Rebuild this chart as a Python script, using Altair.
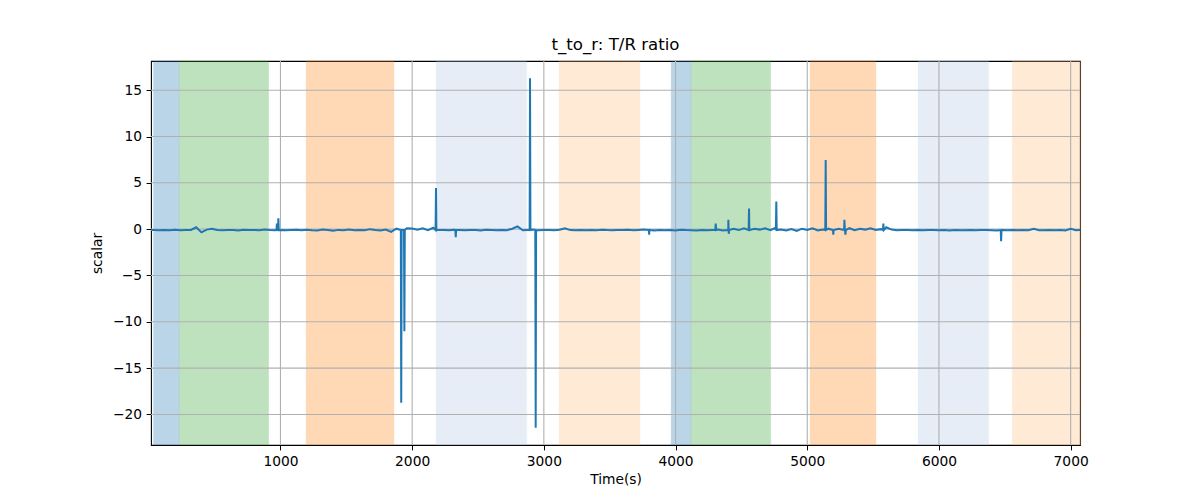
import altair as alt
import pandas as pd

# ---- data ----
base_t = list(range(0, 7120, 40))
base_v = [
    -0.10, -0.08, -0.12, -0.09, -0.11, -0.07, -0.13, -0.10, -0.09, 0.20,
    -0.35, -0.05, 0.05, -0.10, -0.12, -0.08, -0.10, -0.14, -0.06, -0.10,
    -0.09, -0.12, -0.05, -0.10, -0.11, -0.08, -0.12, -0.10, -0.07, -0.12,
    -0.06, -0.12, -0.15, -0.05, -0.10, -0.18, -0.08, -0.11, -0.04, -0.12,
    -0.09, -0.13, 0.00, -0.10, -0.15, -0.05, -0.30, 0.05, -0.12, 0.10,
    0.08, -0.05, 0.10, -0.12, 0.15, -0.10, -0.08, -0.12, -0.06, -0.10,
    -0.12, -0.08, -0.10, -0.14, -0.07, -0.10, -0.12, -0.09, -0.11, 0.05,
    0.30, -0.12, -0.10, -0.05, -0.12, -0.08, -0.10, -0.13, -0.07, 0.10,
    -0.10, -0.12, -0.08, -0.11, -0.09, -0.13, -0.06, -0.10, -0.12, -0.08,
    -0.10, -0.07, -0.12, -0.09, -0.05, 0.00, -0.15, -0.08, -0.12, -0.10,
    -0.14, -0.06, -0.10, -0.12, -0.15, -0.08, -0.12, -0.10, -0.05, -0.14,
    -0.20, 0.05, -0.10, 0.10, -0.15, 0.05, -0.05, 0.10, -0.10, 0.15,
    -0.05, -0.15, 0.00, -0.20, 0.05, -0.10, 0.08, -0.15, -0.05, 0.05,
    -0.10, 0.05, -0.15, 0.10, -0.12, 0.05, -0.05, 0.10, -0.08, 0.00,
    0.20, -0.05, -0.12, -0.08, -0.10, -0.12, -0.09, -0.13, -0.10, -0.08,
    -0.12, -0.10, -0.14, -0.08, -0.11, -0.13, -0.09, -0.12, -0.10, -0.08,
    -0.11, -0.14, -0.10, -0.12, -0.09, -0.13, -0.10, -0.12, 0.05, -0.11,
    -0.13, -0.10, -0.12, -0.09, -0.14, 0.05, -0.12, -0.10,
]

spike_t = [
    970, 973, 976, 981, 984, 987,
    1914, 1917, 1920, 1938, 1941, 1944,
    2178, 2181, 2184, 2328, 2331, 2334,
    2892, 2895, 2898, 2935, 2938, 2941,
    3797, 3800, 3803,
    4302, 4305, 4308, 4398, 4401, 4404, 4407,
    4555, 4558, 4561, 4762, 4765, 4768,
    5137, 5140, 5143, 5195, 5198, 5201,
    5279, 5282, 5286, 5290, 5293,
    5575, 5578, 5581, 6469, 6472, 6475,
]
spike_v = [
    -0.1, 0.6, -0.1, -0.1, 1.17, -0.1,
    -0.1, -18.75, -0.1, -0.1, -11.03, -0.1,
    -0.1, 4.45, -0.1, -0.1, -0.87, -0.1,
    -0.1, 16.3, -0.1, -0.1, -21.45, -0.1,
    -0.1, -0.6, -0.1,
    -0.1, 0.6, -0.1, -0.1, 1.0, -0.5, -0.1,
    -0.1, 2.22, -0.1, -0.1, 2.97, -0.1,
    -0.1, 7.46, -0.1, -0.1, -0.6, -0.1,
    -0.1, 1.0, -0.1, -0.6, -0.1,
    -0.1, 0.6, -0.1, -0.1, -1.3, -0.1,
]

band_start = [35, 232, 1194, 2181, 3115, 3966, 4118, 5021, 5841, 6557]
band_end = [232, 911, 1862, 2870, 3730, 4118, 4723, 5522, 6378, 7080]
band_kind = ["a", "b", "c", "d", "e", "a", "b", "c", "d", "e"]
kind_colors = ["#1f77b4", "#2ca02c", "#ff7f0e", "#aec7e8", "#ffbb78"]

x_ticks = [1000, 2000, 3000, 4000, 5000, 6000, 7000]
y_ticks = [-20, -15, -10, -5, 0, 5, 10, 15]

# ---- tables ----
series = pd.DataFrame({"t": base_t + spike_t, "v": base_v + spike_v}).sort_values("t")
bands = pd.DataFrame({"start": band_start, "end": band_end, "kind": band_kind})
xg = pd.DataFrame({"g": x_ticks})
yg = pd.DataFrame({"g": y_ticks})

xscale = alt.Scale(domain=[17, 7071], nice=False, zero=False)
yscale = alt.Scale(domain=[-23.3, 18.15], nice=False, zero=False)
xaxis = alt.Axis(values=x_ticks, format="d", title="Time(s)", titlePadding=4)
yaxis = alt.Axis(values=y_ticks, format="d", title="scalar", titlePadding=8)

band_layer = alt.Chart(bands).mark_rect(opacity=0.3, strokeWidth=1, strokeOpacity=0.3).encode(
    x=alt.X("start:Q", scale=xscale, axis=xaxis),
    x2="end:Q",
    color=alt.Color("kind:N", scale=alt.Scale(domain=["a", "b", "c", "d", "e"], range=kind_colors), legend=None),
    stroke=alt.Color("kind:N", scale=alt.Scale(domain=["a", "b", "c", "d", "e"], range=kind_colors), legend=None),
)

xgrid = alt.Chart(xg).mark_rule(color="#b0b0b0", strokeWidth=1.1).encode(
    x=alt.X("g:Q", scale=xscale, axis=xaxis)
)
ygrid = alt.Chart(yg).mark_rule(color="#b0b0b0", strokeWidth=1.1).encode(
    y=alt.Y("g:Q", scale=yscale, axis=yaxis)
)

line = alt.Chart(series).mark_line(color="#1f77b4", strokeWidth=2, clip=True).encode(
    x=alt.X("t:Q", scale=xscale, axis=xaxis),
    y=alt.Y("v:Q", scale=yscale, axis=yaxis),
)

chart = (
    alt.layer(band_layer, xgrid, ygrid, line)
    .properties(
        width=929,
        height=384,
        title=alt.TitleParams("t_to_r: T/R ratio", fontSize=16.6, fontWeight="normal", color="black", offset=7),
        autosize=alt.AutoSizeParams(type="none"),
        padding={"left": 143, "top": 53, "right": 112, "bottom": 47},
    )
    .configure(font="DejaVu Sans")
    .configure_view(stroke="black", strokeWidth=1.1)
    .configure_axis(
        grid=False,
        domain=False,
        tickColor="black",
        tickSize=4.9,
        tickWidth=1,
        labelFontSize=13.8,
        labelColor="black",
        labelPadding=4.5,
        titleFontSize=13.8,
        titleFontWeight="normal",
        titleColor="black",
        labelFont="DejaVu Sans",
        titleFont="DejaVu Sans",
    )
)

chart.save("out.html", embed_options={"renderer": "svg", "actions": False})
